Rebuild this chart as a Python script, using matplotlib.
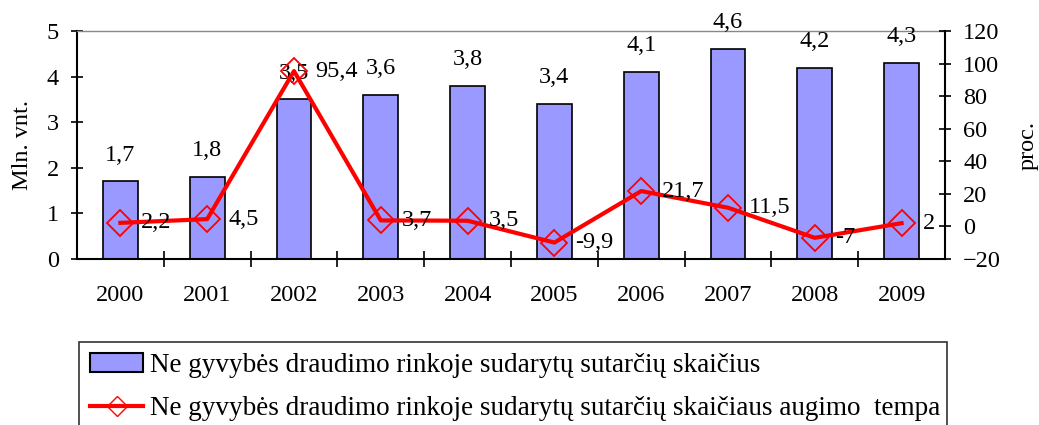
import matplotlib.pyplot as plt
from matplotlib.lines import Line2D
from matplotlib.patches import Patch

plt.rcParams['font.family'] = ['Liberation Serif', 'DejaVu Serif']

metai = ['2000', '2001', '2002', '2003', '2004', '2005', '2006', '2007', '2008', '2009']
sutartys = [1.7, 1.8, 3.5, 3.6, 3.8, 3.4, 4.1, 4.6, 4.2, 4.3]
augimas = [2.2, 4.5, 95.4, 3.7, 3.5, -9.9, 21.7, 11.5, -7, 2]
leg_bar = 'Ne gyvybės draudimo rinkoje sudarytų sutarčių skaičius'
leg_line = 'Ne gyvybės draudimo rinkoje sudarytų sutarčių skaičiaus augimo  tempa'

def kablelis(v):
    s = ('%g' % v)
    return s.replace('.', ',')

fs = 17.5
fig = plt.figure(figsize=(10.39, 4.25), dpi=100)
ax = fig.add_axes([0.0741, 0.3906, 0.9095 - 0.0741, 0.927 - 0.3906])
x = list(range(len(metai)))

ax.bar(x, sutartys, width=0.4, color='#9999FF', edgecolor='black', linewidth=1.2, zorder=2)
ax.set_xlim(-0.5, len(metai) - 0.5)
ax.set_ylim(0, 5)
ax.set_yticks([0, 1, 2, 3, 4, 5])
ax.set_xticks(x)
ax.set_xticklabels(metai)
ax.set_xticks([i + 0.5 for i in x[:-1]], minor=True)
ax.tick_params(axis='x', which='major', length=0, pad=19, labelsize=fs)
ax.tick_params(axis='x', which='minor', direction='inout', length=11, width=1.2)
ax.tick_params(axis='y', direction='inout', length=8, width=1.2, pad=9, labelsize=fs)
ax.set_ylabel('Mln. vnt.', fontsize=fs, labelpad=10)
for s in ['left', 'bottom']:
    ax.spines[s].set_linewidth(1.5)
ax.spines['top'].set_color('#888888')
ax.spines['top'].set_linewidth(1)
ax.spines['right'].set_visible(False)

for xi, v in zip(x, sutartys):
    ax.annotate(kablelis(v), (xi, v), xytext=(0, 19), textcoords='offset points',
                ha='center', va='center', fontsize=fs)

ax2 = ax.twinx()
ax2.plot(x, augimas, color='red', linewidth=3, marker='D', markersize=13,
         markerfacecolor='none', markeredgecolor='red', markeredgewidth=1.3, zorder=3)
ax2.set_ylim(-20, 120)
ax2.set_yticks(range(-20, 121, 20))
ax2.tick_params(axis='y', direction='inout', length=8, width=1.2, pad=9, labelsize=fs)
ax2.set_ylabel('proc.', fontsize=fs, labelpad=12)
for s in ['left', 'bottom', 'top']:
    ax2.spines[s].set_visible(False)
ax2.spines['right'].set_linewidth(1.5)

for xi, v in zip(x, augimas):
    ax2.annotate(kablelis(v), (xi, v), xytext=(15, 0), textcoords='offset points',
                 ha='left', va='center', fontsize=fs)

h1 = Patch(facecolor='#9999FF', edgecolor='black', linewidth=1.5)
h2 = Line2D([], [], color='red', linewidth=3, marker='D', markersize=10,
            markerfacecolor='none', markeredgecolor='red')
leg = fig.legend([h1, h2], [leg_bar, leg_line], loc='upper left',
                 bbox_to_anchor=(0.076, 0.196, 0.835, 0.0), mode='expand',
                 fontsize=19.5, frameon=True, fancybox=False, edgecolor='black',
                 handlelength=1.95, handletextpad=0.25, labelspacing=0.68,
                 borderpad=0.42, borderaxespad=0)
leg.get_frame().set_linewidth(1.2)

fig.savefig('out.png', dpi=100)
